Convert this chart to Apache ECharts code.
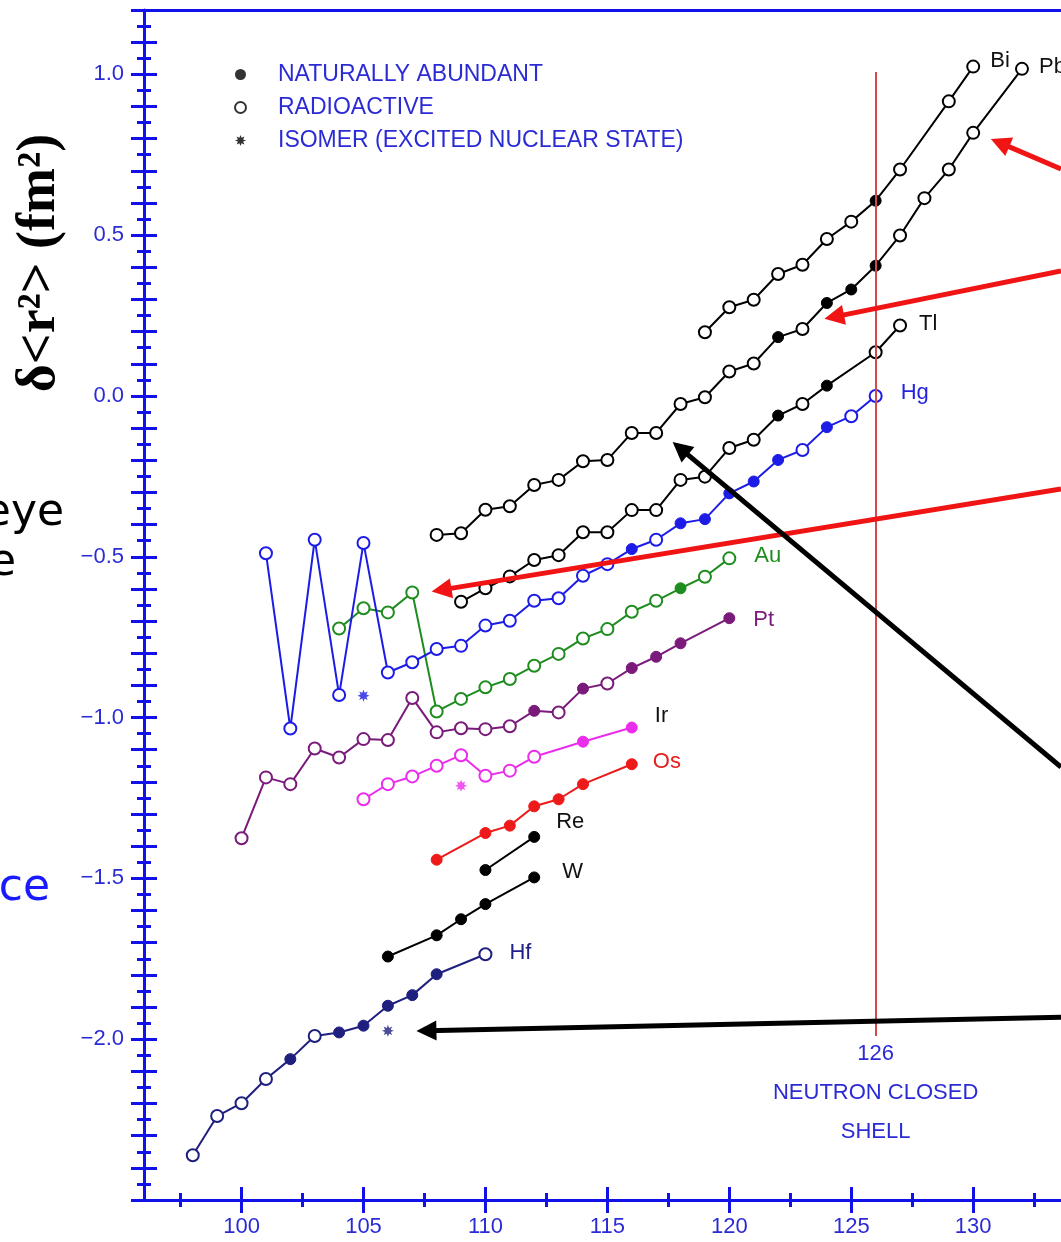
<!DOCTYPE html>
<html>
<head>
<meta charset="utf-8">
<title>Isotope shifts δ&lt;r²&gt; vs neutron number</title>
<script src="https://cdn.jsdelivr.net/npm/echarts@6/dist/echarts.min.js"></script>
<style>
html,body{margin:0;padding:0;background:#ffffff;}
#chart{width:1061px;height:1242px;}
</style>
</head>
<body>
<div id="chart"></div>
<script>
// ---------------- DATA (neutron number N, δ<r²> in fm², o = radioactive, f = naturally abundant) ----------------
const hfN = [98, 99, 100, 101, 102, 103, 104, 105, 106, 107, 108, 110];
const hfV = [-2.361, -2.239, -2.199, -2.124, -2.062, -1.990, -1.979, -1.958, -1.896, -1.863, -1.798, -1.736];
const hfT = ['o','o','o','o','f','o','f','f','f','f','f','o'];

const wN = [106, 108, 109, 110, 112];
const wV = [-1.743, -1.677, -1.627, -1.580, -1.497];
const wT = ['f','f','f','f','f'];

const reN = [110, 112];
const reV = [-1.474, -1.371];
const reT = ['f','f'];

const osN = [108, 110, 111, 112, 113, 114, 116];
const osV = [-1.442, -1.359, -1.336, -1.276, -1.254, -1.207, -1.145];
const osT = ['f','f','f','f','f','f','f'];

const irN = [105, 106, 107, 108, 109, 110, 111, 112, 114, 116];
const irV = [-1.254, -1.207, -1.183, -1.150, -1.117, -1.181, -1.165, -1.122, -1.075, -1.031];
const irT = ['o','o','o','o','o','o','o','o','f','f'];

const ptN = [100, 101, 102, 103, 104, 105, 106, 107, 108, 109, 110, 111, 112, 113, 114, 115, 116, 117, 118, 120];
const ptV = [-1.375, -1.186, -1.207, -1.096, -1.124, -1.067, -1.070, -0.939, -1.046, -1.033, -1.036, -1.027, -0.979, -0.984, -0.910, -0.894, -0.846, -0.811, -0.769, -0.691];
const ptT = ['o','o','o','o','o','o','o','o','o','o','o','o','f','o','f','o','f','f','f','f'];

const auN = [104, 105, 106, 107, 108, 109, 110, 111, 112, 113, 114, 115, 116, 117, 118, 119, 120];
const auV = [-0.723, -0.660, -0.673, -0.611, -0.981, -0.942, -0.906, -0.880, -0.839, -0.802, -0.754, -0.725, -0.671, -0.637, -0.598, -0.562, -0.505];
const auT = ['o','o','o','o','o','o','o','o','o','o','o','o','o','o','f','o','o'];

const hgN = [101, 102, 103, 104, 105, 106, 107, 108, 109, 110, 111, 112, 113, 114, 115, 116, 117, 118, 119, 120, 121, 122, 123, 124, 125, 126];
const hgV = [-0.489, -1.034, -0.447, -0.930, -0.457, -0.860, -0.828, -0.787, -0.777, -0.714, -0.699, -0.637, -0.629, -0.559, -0.523, -0.476, -0.447, -0.396, -0.383, -0.303, -0.266, -0.199, -0.168, -0.097, -0.063, 0.000];
const hgT = ['o','o','o','o','o','o','o','o','o','o','o','o','o','o','o','f','o','f','f','f','f','f','o','f','o','o'];

const tlN = [109, 110, 111, 112, 113, 114, 115, 116, 117, 118, 119, 120, 121, 122, 123, 124, 126, 127];
const tlV = [-0.640, -0.598, -0.561, -0.510, -0.495, -0.424, -0.424, -0.355, -0.355, -0.261, -0.251, -0.162, -0.136, -0.061, -0.025, 0.032, 0.136, 0.219];
const tlT = ['o','o','o','o','o','o','o','o','o','o','o','o','o','f','o','f','o','o'];

const pbN = [108, 109, 110, 111, 112, 113, 114, 115, 116, 117, 118, 119, 120, 121, 122, 123, 124, 125, 126, 127, 128, 129, 130, 132];
const pbV = [-0.432, -0.427, -0.354, -0.343, -0.277, -0.261, -0.203, -0.199, -0.115, -0.115, -0.025, -0.004, 0.076, 0.101, 0.183, 0.208, 0.289, 0.331, 0.405, 0.499, 0.615, 0.704, 0.818, 1.017];
const pbT = ['o','o','o','o','o','o','o','o','o','o','o','o','o','o','f','o','f','f','f','o','o','o','o','o'];

const biN = [119, 120, 121, 122, 123, 124, 125, 126, 127, 129, 130];
const biV = [0.198, 0.276, 0.299, 0.379, 0.408, 0.488, 0.542, 0.607, 0.704, 0.916, 1.024];
const biT = ['o','o','o','o','o','o','o','f','o','o','o'];

// isomers (excited nuclear states)
const isoEl = ['Hf', 'Ir', 'Hg'];
const isoN = [106, 109, 105];
const isoV = [-1.974, -1.212, -0.932];

// neutron closed shell
const shellN = 126;
const shellFrom = -1.99;
const shellTo = 1.007;
const shellText = ['126', 'NEUTRON CLOSED', 'SHELL'];

// annotation arrows (from right edge to target), in data units
const arrowFromN = [133.6, 133.6, 133.6, 133.6, 133.6];
const arrowFromV = [0.706, 0.389, -0.289, -1.154, -1.932];
const arrowToN = [131.1, 124.3, 108.2, 117.99, 107.58];
const arrowToV = [0.787, 0.246, -0.603, -0.163, -1.974];
const arrowKind = ['red', 'red', 'red', 'black', 'black'];

// axes / ticks
const xMin = 96, xMax = 133.6, yMin = -2.5, yMax = 1.2;
const xLabelVals = [100, 105, 110, 115, 120, 125, 130];
const xMinorVals = [97.5, 102.5, 107.5, 112.5, 117.5, 122.5, 127.5, 132.5];
const yLabelVals = [-2.0, -1.5, -1.0, -0.5, 0.0, 0.5, 1.0];
const yMajorVals = [];
for (let k = -25; k <= 12; k++) yMajorVals.push(k / 10);
const yMinorVals = [];
for (let k = -25; k < 12; k++) yMinorVals.push((k * 10 + 5) / 100);

const legendNames = ['NATURALLY ABUNDANT', 'RADIOACTIVE', 'ISOMER (EXCITED NUCLEAR STATE)'];

// ---------------- STYLE ----------------
const axisBlue = '#1212e8';
const textBlue = '#2b2bd6';
const FONT = '"Liberation Sans", Arial, Helvetica, sans-serif';
const colors = {
  Hf: '#1f1f80', W: '#000000', Re: '#000000', Os: '#ee1a1a', Ir: '#ec2cec',
  Pt: '#7a1a7a', Au: '#1e8c1e', Hg: '#1c1ce6', Tl: '#000000', Pb: '#000000', Bi: '#000000'
};
const labelColors = {
  Hf: '#20208a', W: '#111', Re: '#111', Os: '#e62020', Ir: '#111',
  Pt: '#7a1a7a', Au: '#1e8c1e', Hg: '#2424e0', Tl: '#111', Pb: '#111', Bi: '#111'
};

function starPath() {
  let s = 'path://';
  for (let k = 0; k < 16; k++) {
    const a = k * Math.PI / 8 - Math.PI / 2;
    const r = (k % 2) ? 5.2 : 10;
    s += (k ? 'L' : 'M') + (r * Math.cos(a)).toFixed(2) + ',' + (r * Math.sin(a)).toFixed(2) + ' ';
  }
  return s + 'Z';
}
const STAR = starPath();

function elementSeries(name, N, V, T, labelOffset) {
  const c = colors[name];
  const data = N.map((n, i) => {
    const filled = T[i] === 'f';
    return {
      value: [n, V[i]],
      symbolSize: filled ? 11 : 12,
      itemStyle: filled
        ? { color: c, borderColor: c, borderWidth: 1 }
        : { color: '#ffffff', borderColor: c, borderWidth: 2 }
    };
  });
  data[data.length - 1].label = {
    show: true, position: 'right', formatter: name, offset: labelOffset,
    color: labelColors[name], fontSize: 22, fontFamily: FONT
  };
  return {
    type: 'line', name: name, data: data, symbol: 'circle', showSymbol: true,
    lineStyle: { color: c, width: 2 }, itemStyle: { color: c },
    label: { show: false }, emphasis: { disabled: true }, z: 3, silent: true
  };
}

const series = [
  elementSeries('Hf', hfN, hfV, hfT, [12, -1]),
  elementSeries('W', wN, wV, wT, [17, -5]),
  elementSeries('Re', reN, reV, reT, [11, -15]),
  elementSeries('Os', osN, osV, osT, [10, -2]),
  elementSeries('Ir', irN, irV, irT, [12, -12]),
  elementSeries('Pt', ptN, ptV, ptT, [13, 2]),
  elementSeries('Au', auN, auV, auT, [13, -2]),
  elementSeries('Hg', hgN, hgV, hgT, [13, -3]),
  elementSeries('Tl', tlN, tlV, tlT, [7, -2]),
  elementSeries('Pb', pbN, pbV, pbT, [5, -2]),
  elementSeries('Bi', biN, biV, biT, [5, -6])
];

// isomer stars
series.push({
  type: 'scatter', name: 'isomers', symbol: STAR, symbolSize: 12, silent: true, z: 4,
  data: isoN.map((n, i) => ({ value: [n, isoV[i]], itemStyle: { color: colors[isoEl[i]] } }))
});

// neutron closed shell line
series.push({
  type: 'line', name: 'shell', data: [], silent: true, z: 1,
  markLine: {
    silent: true, symbol: ['none', 'none'], animation: false,
    lineStyle: { color: '#d24a4a', width: 2, type: 'solid' },
    label: {
      show: true, position: 'start', formatter: shellText.join('\n'),
      color: textBlue, fontSize: 22, fontFamily: FONT, lineHeight: 39, distance: -2, align: 'center'
    },
    data: [[{ coord: [shellN, shellFrom] }, { coord: [shellN, shellTo] }]]
  }
});

// annotation arrows
series.push({
  type: 'line', name: 'arrows', data: [], silent: true, z: 10,
  markLine: {
    silent: true, symbol: ['none', 'triangle'], symbolSize: 20, animation: false,
    label: { show: false },
    data: arrowFromN.map((n, i) => {
      const col = arrowKind[i] === 'red' ? '#f01414' : '#000000';
      return [
        { coord: [n, arrowFromV[i]], lineStyle: { color: col, width: 5, type: 'solid' } },
        { coord: [arrowToN[i], arrowToV[i]] }
      ];
    })
  }
});

// legend helper series
series.push({ type: 'scatter', name: legendNames[0], data: [], symbol: 'circle', itemStyle: { color: '#000' } });
series.push({ type: 'scatter', name: legendNames[1], data: [], symbol: 'circle', itemStyle: { color: '#fff', borderColor: '#000', borderWidth: 2 } });
series.push({ type: 'scatter', name: legendNames[2], data: [], symbol: STAR, itemStyle: { color: '#000' } });

const G = { left: 144, right: 0, top: 10, bottom: 42, containLabel: false };
const tickLine = { color: axisBlue, width: 3 };

function hiddenBase(extra) {
  return Object.assign({
    type: 'value', splitLine: { show: false },
    axisLine: { show: false, onZero: false }, axisLabel: { show: false }
  }, extra);
}

const option = {
  animation: false,
  backgroundColor: '#ffffff',
  grid: [G, G, G],
  legend: {
    show: true, orient: 'vertical', left: 229, top: 58, itemWidth: 11, itemHeight: 11, itemGap: 10,
    selectedMode: false,
    textStyle: { color: textBlue, fontSize: 23, fontFamily: FONT, padding: [0, 0, 0, 27] },
    data: [
      { name: legendNames[0], icon: 'circle', itemStyle: { color: '#000' } },
      { name: legendNames[1], icon: 'circle', itemStyle: { color: '#fff', borderColor: '#000', borderWidth: 2 } },
      { name: legendNames[2], icon: STAR, itemStyle: { color: '#000' } }
    ]
  },
  xAxis: [
    {
      type: 'value', gridIndex: 0, position: 'bottom', min: xMin, max: xMax,
      axisLine: { show: true, onZero: false, lineStyle: { color: axisBlue, width: 3 } },
      axisTick: { show: false },
      axisLabel: { show: true, customValues: xLabelVals, color: textBlue, fontSize: 22, fontFamily: FONT, margin: 16 },
      splitLine: { show: false }
    },
    {
      type: 'value', gridIndex: 0, position: 'top', min: xMin, max: xMax,
      axisLine: { show: true, onZero: false, lineStyle: { color: axisBlue, width: 3 } },
      axisTick: { show: false }, axisLabel: { show: false }, splitLine: { show: false }
    },
    hiddenBase({ gridIndex: 1, position: 'bottom', min: xMin, max: xMax, offset: -13,
      axisTick: { show: true, customValues: xLabelVals, length: 26, lineStyle: tickLine } }),
    hiddenBase({ gridIndex: 2, position: 'bottom', min: xMin, max: xMax, offset: -7,
      axisTick: { show: true, customValues: xMinorVals, length: 14, lineStyle: tickLine } })
  ],
  yAxis: [
    {
      type: 'value', gridIndex: 0, position: 'left', min: yMin, max: yMax,
      axisLine: { show: true, onZero: false, lineStyle: { color: axisBlue, width: 3 } },
      axisTick: { show: false },
      axisLabel: {
        show: true, customValues: yLabelVals, color: textBlue, fontSize: 22, fontFamily: FONT, margin: 20,
        formatter: v => (v < -1e-9 ? '\u2212' : '') + Math.abs(v).toFixed(1)
      },
      splitLine: { show: false }
    },
    hiddenBase({ gridIndex: 1, position: 'left', min: yMin, max: yMax, offset: -13,
      axisTick: { show: true, customValues: yMajorVals, length: 26, lineStyle: tickLine } }),
    hiddenBase({ gridIndex: 2, position: 'left', min: yMin, max: yMax, offset: -7,
      axisTick: { show: true, customValues: yMinorVals, length: 14, lineStyle: tickLine } })
  ],
  graphic: [
    {
      type: 'text', x: 40, y: 263, rotation: Math.PI / 2,
      style: { text: 'δ<r²> (fm²)', font: 'bold 54px "Liberation Serif", "Times New Roman", serif', fill: '#000', align: 'center', verticalAlign: 'middle' }
    },
    { type: 'text', x: 64, y: 514, style: { text: 'eye', font: '44px "Comic Sans MS", "DejaVu Sans", sans-serif', fill: '#000', align: 'right', verticalAlign: 'middle' } },
    { type: 'text', x: 16, y: 564, style: { text: 'e', font: '44px "Comic Sans MS", "DejaVu Sans", sans-serif', fill: '#000', align: 'right', verticalAlign: 'middle' } },
    { type: 'text', x: 50, y: 889, style: { text: 'ce', font: '44px "Comic Sans MS", "DejaVu Sans", sans-serif', fill: '#1a1aff', align: 'right', verticalAlign: 'middle' } }
  ],
  series: series
};

const chart = echarts.init(document.getElementById('chart'), null, { renderer: 'canvas' });
chart.setOption(option);
</script>
</body>
</html>
